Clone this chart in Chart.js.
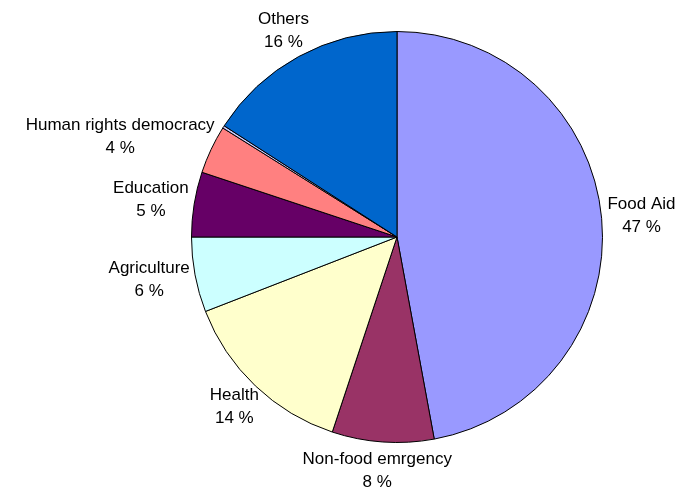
<!DOCTYPE html>
<html>
<head>
<meta charset="utf-8">
<script src="https://cdn.jsdelivr.net/npm/chart.js@4/dist/chart.umd.min.js"></script>
<style>
  html, body { margin: 0; padding: 0; background: #fff; }
  #wrap { width: 677px; height: 498px; }
</style>
</head>
<body>
<div id="wrap"><canvas id="pieChart" width="677" height="498"></canvas></div>
<script>
const sectors = ['Food Aid', 'Non-food emrgency', 'Health', 'Agriculture', 'Education', 'Human rights democracy', '', 'Others'];
const shares = [47.1, 8.0, 14.0, 5.9, 5.1, 3.8, 0.2, 15.9];
const shareLabels = ['47 %', '8 %', '14 %', '6 %', '5 %', '4 %', '', '16 %'];
const sliceColors = ['#9999FF', '#993366', '#FFFFCC', '#CCFFFF', '#660066', '#FF8080', '#CCCCFF', '#0066CC'];

// labels outside the pie, pushed out along the slice middle
const outsideLabels = {
  id: 'outsideLabels',
  afterDatasetsDraw(chart) {
    const ctx = chart.ctx;
    const arcs = chart.getDatasetMeta(0).data;
    ctx.save();
    ctx.font = '17px "Liberation Sans", Arial, sans-serif';
    ctx.fillStyle = '#000';
    ctx.textAlign = 'center';
    ctx.textBaseline = 'middle';
    const lineH = 23;
    arcs.forEach((arc, i) => {
      if (!sectors[i]) return;
      const mid = (arc.startAngle + arc.endAngle) / 2;
      const cx = Math.cos(mid), cy = Math.sin(mid);
      const r = arc.outerRadius + 6;
      const w = Math.max(ctx.measureText(sectors[i]).width, ctx.measureText(shareLabels[i]).width);
      const h = lineH * 2;
      const x = arc.x + r * cx + (w / 2) * cx;
      const y = arc.y + r * cy + (h / 2) * cy;
      ctx.fillText(sectors[i], x, y - lineH / 2);
      ctx.fillText(shareLabels[i], x, y + lineH / 2);
    });
    ctx.restore();
  }
};

new Chart(document.getElementById('pieChart').getContext('2d'), {
  type: 'pie',
  data: {
    labels: sectors,
    datasets: [{
      data: shares,
      backgroundColor: sliceColors,
      borderColor: '#000',
      borderWidth: 1
    }]
  },
  options: {
    responsive: false,
    animation: false,
    layout: { padding: { left: 191, top: 31, right: 74, bottom: 55 } },
    plugins: {
      legend: { display: false },
      tooltip: { enabled: false }
    }
  },
  plugins: [outsideLabels]
});
</script>
</body>
</html>
